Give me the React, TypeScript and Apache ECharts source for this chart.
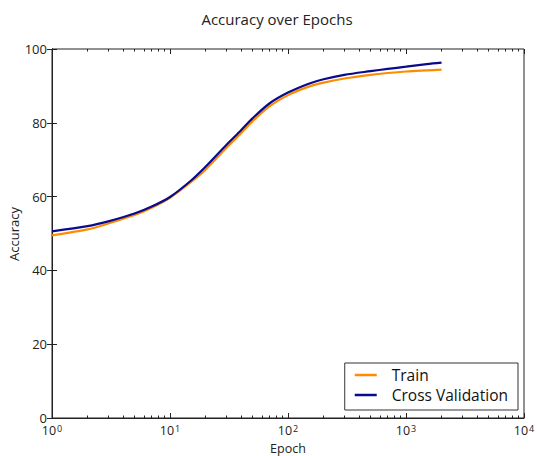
import React, { useEffect, useRef } from "react";
import * as echarts from "echarts";

const epochs = [1, 2, 3, 5, 7, 10, 15, 20, 30, 40, 50, 70, 100, 150, 200, 300, 500, 700, 1000, 1500, 2000];
const trainAcc = [49.5, 51.1, 52.7, 55.0, 57.0, 59.7, 63.9, 67.3, 73.2, 77.2, 80.4, 84.5, 87.5, 89.8, 90.9, 92.0, 93.0, 93.5, 93.9, 94.2, 94.4];
const cvAcc = [50.6, 52.0, 53.3, 55.4, 57.3, 59.9, 64.3, 68.1, 74.0, 78.0, 81.2, 85.3, 88.2, 90.6, 91.8, 93.0, 94.0, 94.6, 95.2, 95.9, 96.3];
const seriesNames = ["Train", "Cross Validation"];
const xAxisName = "Epoch";
const yAxisName = "Accuracy";

const FONT = "Open Sans";
const AX = "#222";

export default function App() {
  const ref = useRef<HTMLDivElement>(null);
  useEffect(() => {
    if (!ref.current) return;
    const chart = echarts.init(ref.current, null, { renderer: "svg" });
    const minorVals: number[] = [];
    for (let d = 0; d < 4; d++) for (let k = 2; k <= 9; k++) minorVals.push(d + Math.log10(k));
    const majorVals = [0, 1, 2, 3, 4];
    const hiddenAxis = (pos: string, vals: number[], len: number) => ({
      type: "value",
      position: pos,
      min: 0,
      max: 4,
      axisLine: { show: false },
      axisLabel: { show: false },
      splitLine: { show: false },
      axisTick: { show: true, inside: true, length: len, customValues: vals, lineStyle: { color: AX, width: 1 } },
    });
    chart.setOption({
      animation: false,
      textStyle: { fontFamily: FONT },
      title: {
        text: "Accuracy over Epochs",
        left: 272,
        textAlign: "center",
        top: 6,
        textStyle: { fontFamily: FONT, fontSize: 15, fontWeight: "normal", color: "#222" },
      },
      grid: {
        left: 52, right: 13, top: 49, bottom: 38,
        outerBoundsMode: "none",
        containLabel: false,
        show: true, borderColor: AX, borderWidth: 1, backgroundColor: "transparent",
      },
      graphic: [
        {
          type: "text",
          x: 288,
          y: 448,
          style: { text: xAxisName, fontFamily: FONT, fontSize: 12.5, fill: "#222", textAlign: "center", textVerticalAlign: "middle" },
        },
        {
          type: "text",
          x: 14,
          y: 234,
          rotation: Math.PI / 2,
          style: { text: yAxisName, fontFamily: FONT, fontSize: 13, fill: "#222", textAlign: "center", textVerticalAlign: "middle" },
        },
      ],
      legend: {
        orient: "vertical",
        right: 19,
        bottom: 46,
        data: seriesNames,
        icon: "path://M0,0 L22,0 L22,2.5 L0,2.5 Z",
        borderColor: "#333",
        borderWidth: 1,
        borderRadius: 0,
        padding: [3, 10, 6, 10],
        itemWidth: 22,
        itemHeight: 3,
        itemGap: 2,
        textStyle: { fontFamily: FONT, fontSize: 15.5, color: "#111", lineHeight: 18, padding: [0, 0, 0, 10] },
      },
      xAxis: [
        {
          type: "log",
          logBase: 10,
          min: 1,
          max: 10000,
          position: "bottom",
          axisLine: { show: true, lineStyle: { color: AX, width: 1 } },
          axisTick: { show: true, inside: true, length: 5, lineStyle: { color: AX } },
          splitLine: { show: false },
          axisLabel: {
            margin: 6,
            formatter: (v: number) => `{b|10}{s|${Math.round(Math.log10(v))}}`,
            rich: {
              b: { fontFamily: FONT, fontSize: 12.5, color: "#222", lineHeight: 13, verticalAlign: "bottom" },
              s: { fontFamily: FONT, fontSize: 9, color: "#222", verticalAlign: "top", lineHeight: 13, padding: [0, 0, 0, 1] },
            },
          },
        },
        hiddenAxis("bottom", minorVals, 2.5),
        hiddenAxis("top", majorVals, 5),
        hiddenAxis("top", minorVals, 2.5),
      ],
      yAxis: [
        {
          type: "value",
          min: 0,
          max: 100,
          interval: 20,
          axisLine: { show: true, lineStyle: { color: AX, width: 1 } },
          axisTick: { show: true, inside: true, length: 5, lineStyle: { color: AX } },
          splitLine: { show: false },
          axisLabel: { fontFamily: FONT, fontSize: 13, color: "#222", margin: 5, lineHeight: 14 },
        },
        {
          type: "value",
          min: 0,
          max: 100,
          interval: 20,
          position: "right",
          axisLine: { show: true, lineStyle: { color: AX, width: 1 } },
          axisTick: { show: true, inside: true, length: 5, lineStyle: { color: AX } },
          axisLabel: { show: false },
          splitLine: { show: false },
        },
      ],
      series: [
        {
          name: seriesNames[0],
          type: "line",
          xAxisIndex: 0,
          yAxisIndex: 0,
          data: epochs.map((e, i) => [e, trainAcc[i]]),
          symbol: "none",
          smooth: 0.3,
          lineStyle: { color: "#FF8C00", width: 2.2 },
          itemStyle: { color: "#FF8C00" },
        },
        {
          name: seriesNames[1],
          type: "line",
          xAxisIndex: 0,
          yAxisIndex: 0,
          data: epochs.map((e, i) => [e, cvAcc[i]]),
          symbol: "none",
          smooth: 0.3,
          lineStyle: { color: "#0A0A8C", width: 2.2 },
          itemStyle: { color: "#0A0A8C" },
        },
      ],
    });
    return () => chart.dispose();
  }, []);
  return <div ref={ref} style={{ width: 537, height: 456, position: "absolute", left: 0, top: 0 }} />;
}
